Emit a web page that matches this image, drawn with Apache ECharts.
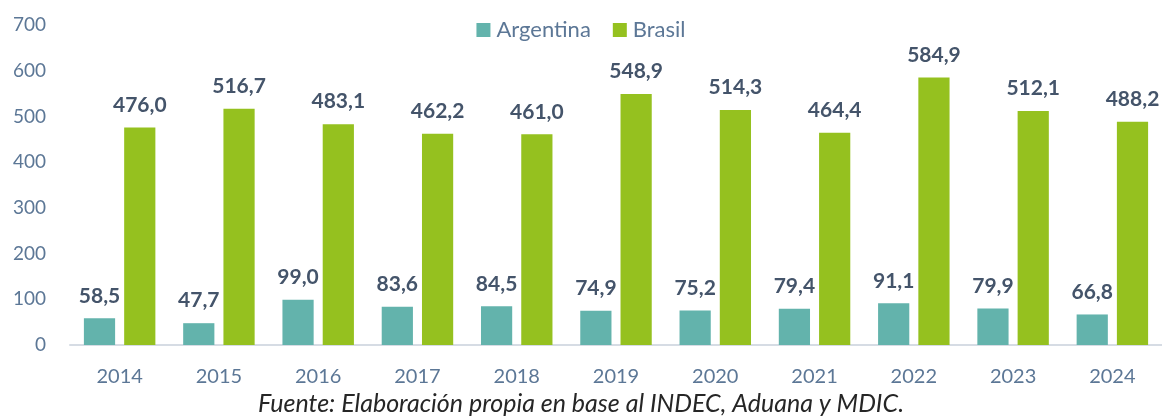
<!DOCTYPE html>
<html>
<head>
<meta charset="utf-8">
<script src="https://cdn.jsdelivr.net/npm/echarts@6/dist/echarts.min.js"></script>
<style>
  html, body { margin: 0; padding: 0; background: #fff; }
  #chart { width: 1162px; height: 420px; }
</style>
</head>
<body>
<div id="chart"></div>
<script>
  // datos
  const years = ['2014', '2015', '2016', '2017', '2018', '2019', '2020', '2021', '2022', '2023', '2024'];
  const argentina = [58.5, 47.7, 99.0, 83.6, 84.5, 74.9, 75.2, 79.4, 91.1, 79.9, 66.8];
  const brasil = [476.0, 516.7, 483.1, 462.2, 461.0, 548.9, 514.3, 464.4, 584.9, 512.1, 488.2];
  const yTicks = [0, 100, 200, 300, 400, 500, 600, 700];

  const fontFamily = 'Lato, "Open Sans", sans-serif';
  const labelColor = '#44546A';
  const axisColor = '#5C7796';

  const chart = echarts.init(document.getElementById('chart'));

  // formato con coma decimal
  const fmt = v => v.toFixed(1).replace('.', ',');

  const barLabel = {
    show: true,
    position: 'top',
    distance: 12,
    color: labelColor,
    fontFamily: fontFamily,
    fontWeight: 'bold',
    fontSize: 21,
    formatter: p => fmt(p.value)
  };

  const option = {
    animation: false,
    legend: {
      top: 14,
      left: 'center',
      itemWidth: 14,
      itemHeight: 14,
      itemGap: 22,
      icon: 'rect',
      textStyle: { color: axisColor, fontFamily: fontFamily, fontSize: 22, padding: [0, 0, 0, 1] },
      data: ['Argentina', 'Brasil']
    },
    grid: { left: 70, right: 0, top: 25, bottom: 75 },
    xAxis: {
      type: 'category',
      data: years,
      axisLine: { show: true, lineStyle: { color: '#D6DCE4', width: 2 } },
      axisTick: { show: false },
      axisLabel: { color: axisColor, fontFamily: fontFamily, fontSize: 20, margin: 22 }
    },
    yAxis: {
      type: 'value',
      min: yTicks[0],
      max: yTicks[yTicks.length - 1],
      interval: 100,
      splitLine: { show: false },
      axisLine: { show: false },
      axisTick: { show: false },
      axisLabel: { color: axisColor, fontFamily: fontFamily, fontSize: 19, margin: 24 }
    },
    series: [
      {
        name: 'Argentina',
        type: 'bar',
        data: argentina,
        barGap: '29%',
        barCategoryGap: '28%',
        itemStyle: { color: '#63B3AC' },
        label: barLabel
      },
      {
        name: 'Brasil',
        type: 'bar',
        data: brasil,
        itemStyle: { color: '#95C11F' },
        label: barLabel
      }
    ],
    graphic: [
      {
        type: 'text',
        left: 'center',
        top: 391,
        style: {
          text: 'Fuente: Elaboración propia en base al INDEC, Aduana y MDIC.',
          fill: '#262626',
          font: 'italic 25px ' + fontFamily
        }
      }
    ]
  };

  chart.setOption(option);
</script>
</body>
</html>
